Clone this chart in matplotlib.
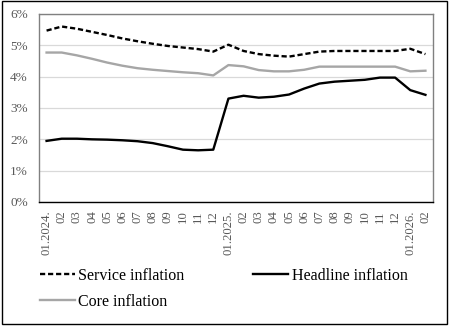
import matplotlib
matplotlib.use("Agg")
import matplotlib.pyplot as plt
from matplotlib.patches import Rectangle

months = ["01.2024.", "02", "03", "04", "05", "06", "07", "08", "09", "10", "11", "12",
          "01.2025.", "02", "03", "04", "05", "06", "07", "08", "09", "10", "11", "12",
          "01.2026.", "02"]

service = [5.47, 5.60, 5.53, 5.43, 5.33, 5.22, 5.13, 5.05, 4.98, 4.93, 4.88, 4.80,
           5.02, 4.82, 4.72, 4.67, 4.64, 4.72, 4.80, 4.82, 4.82, 4.82, 4.82, 4.82,
           4.89, 4.72]
headline = [1.95, 2.02, 2.02, 2.00, 1.99, 1.97, 1.94, 1.88, 1.78, 1.67, 1.65, 1.67,
            3.30, 3.39, 3.33, 3.36, 3.43, 3.62, 3.78, 3.84, 3.87, 3.90, 3.97, 3.97,
            3.57, 3.42]
core = [4.77, 4.77, 4.68, 4.57, 4.45, 4.35, 4.27, 4.22, 4.18, 4.14, 4.11, 4.04,
        4.37, 4.33, 4.21, 4.17, 4.17, 4.22, 4.32, 4.32, 4.32, 4.32, 4.32, 4.32,
        4.17, 4.19]

y_ticks = [0, 1, 2, 3, 4, 5, 6]
y_labels = ["0%", "1%", "2%", "3%", "4%", "5%", "6%"]

W, H = 450, 326
fig = plt.figure(figsize=(W / 100, H / 100), dpi=100)
fig.patch.set_facecolor("white")

serif = ["Liberation Serif", "DejaVu Serif"]

# chart frame
fig.add_artist(Rectangle((1.5 / W, 2.5 / H), 445 / W, 323 / H, transform=fig.transFigure,
                         fill=False, edgecolor="black", linewidth=1.0))

ax = fig.add_axes([39 / W, (H - 202) / H, (433 - 39) / W, (202 - 14) / H])
x = list(range(len(months)))

l_serv, = ax.plot(x, service, color="black", linewidth=1.7, dashes=(2.2, 1.2),
                  label="Service inflation", solid_joinstyle="round")
l_head, = ax.plot(x, headline, color="black", linewidth=1.7, label="Headline inflation",
                  solid_joinstyle="round")
l_core, = ax.plot(x, core, color="#a6a6a6", linewidth=1.7, label="Core inflation",
                  solid_joinstyle="round")

ax.set_xlim(-0.5, len(months) - 0.5)
ax.set_ylim(0, 6)
ax.set_yticks(y_ticks)
ax.set_yticklabels(y_labels, family=serif, fontsize=9.5, color="#595959")
ax.set_xticks(x)
ax.set_xticklabels(months, rotation=90, family=serif, fontsize=9.2, color="#595959",
                   va="top", ha="center")
ax.tick_params(axis="both", length=0)
ax.tick_params(axis="y", pad=8)
ax.tick_params(axis="x", pad=6)
ax.grid(axis="y", color="#d9d9d9", linewidth=0.9)
ax.set_axisbelow(True)
for side in ["left", "top", "right"]:
    ax.spines[side].set_color("#808080")
    ax.spines[side].set_linewidth(1.0)
ax.spines["bottom"].set_color("black")
ax.spines["bottom"].set_linewidth(1.0)

leg = fig.legend(handles=[l_serv, l_core, l_head],
                 labels=["Service inflation", "Core inflation", "Headline inflation"],
                 ncol=2, loc="upper left", bbox_to_anchor=(40 / W, (H - 268) / H),
                 frameon=False, prop={"family": serif, "size": 11.5},
                 handlelength=2.2, handletextpad=0.2, columnspacing=4.3,
                 labelspacing=0.62, borderpad=0, borderaxespad=0)

fig.savefig("out.png", dpi=100, facecolor="white")
